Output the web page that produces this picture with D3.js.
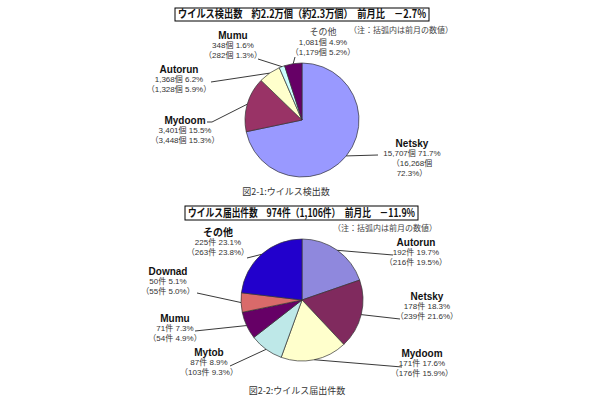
<!DOCTYPE html>
<html>
<head>
<meta charset="utf-8">
<script src="https://cdn.jsdelivr.net/npm/d3@7"></script>
<style>
  body { margin: 0; background: #fff; }
  svg { display: block; }
</style>
</head>
<body>
<svg></svg>
<script>
// chart 1: virus detections
const detectNames = ["Netsky", "Mydoom", "Autorun", "Mumu", "その他"];
const detectCounts = [15707, 3401, 1368, 348, 1081];
const detectShares = [71.7, 15.5, 6.2, 1.6, 4.9];
const detectPrevCounts = [16268, 3448, 1328, 282, 1179];
const detectPrevShares = [72.3, 15.3, 5.9, 1.3, 5.2];
const detectTitle = "ウイルス検出数　約2.2万個（約2.3万個）　前月比　－2.7%";
const detectCaption = "図2-1:ウイルス検出数";

// chart 2: virus reports
const reportNames = ["Autorun", "Netsky", "Mydoom", "Mytob", "Mumu", "Downad", "その他"];
const reportCounts = [192, 178, 171, 87, 71, 50, 225];
const reportShares = [19.7, 18.3, 17.6, 8.9, 7.3, 5.1, 23.1];
const reportPrevCounts = [216, 239, 176, 103, 54, 55, 263];
const reportPrevShares = [19.5, 21.6, 15.9, 9.3, 4.9, 5.0, 23.8];
const reportTitle = "ウイルス届出件数　974件（1,106件）　前月比　－11.9%";
const reportCaption = "図2-2:ウイルス届出件数";

const noteText = "（注：括弧内は前月の数値）";

// Layout
const width = 610;
const height = 400;
const latin = "'Liberation Sans', Arial, 'Noto Sans CJK JP', sans-serif";
const cjk = "'Noto Sans CJK JP', 'Liberation Sans', sans-serif";

const svg = d3.select("svg")
    .attr("width", width)
    .attr("height", height)
    .attr("viewBox", `0 0 ${width} ${height}`);

svg.append("rect")
    .attr("width", width)
    .attr("height", height)
    .attr("fill", "#fff");

const fmt = d3.format(",");

// label anchors (x = text centre, y = first line centre, lx/ly = leader start)
const charts = [
  {
    names: detectNames, counts: detectCounts, shares: detectShares,
    prevCounts: detectPrevCounts, prevShares: detectPrevShares,
    unit: "個", title: detectTitle, caption: detectCaption,
    cx: 302, cy: 120, r: 57,
    colors: ["#9999FF", "#993366", "#FFFFCC", "#CCFFFF", "#660066"],
    box: [175, 8, 254, 13], titleLen: 248,
    note: [401, 30], cap: [286, 192],
    labels: [
      {x: 412, y: 143, lx: 378, ly: 155, wrap: true},
      {x: 185, y: 120, lx: 207, ly: 122, hook: 212},
      {x: 179, y: 69, lx: 211, ly: 82},
      {x: 233, y: 35, lx: 258, ly: 59},
      {x: 323, y: 32, lx: 295, ly: 57, plain: true}
    ]
  },
  {
    names: reportNames, counts: reportCounts, shares: reportShares,
    prevCounts: reportPrevCounts, prevShares: reportPrevShares,
    unit: "件", title: reportTitle, caption: reportCaption,
    cx: 302, cy: 300, r: 61,
    colors: ["#8F88DD", "#802A5E", "#FFFFCC", "#BEE8E8", "#660066", "#D96A6A", "#2200CC"],
    box: [185, 206, 233, 14], titleLen: 227,
    note: [385, 228], cap: [297, 391],
    labels: [
      {x: 416, y: 242, lx: 393, ly: 255},
      {x: 427, y: 296, lx: 400, ly: 319},
      {x: 422, y: 353, lx: 402, ly: 367},
      {x: 209, y: 352, lx: 230, ly: 366},
      {x: 175, y: 318, lx: 195, ly: 331},
      {x: 168, y: 271, lx: 197, ly: 293},
      {x: 218, y: 232, lx: 247, ly: 258}
    ]
  }
];

charts.forEach(c => {
  const pie = d3.pie().sort(null).value(d => d);
  const arcs = pie(c.counts);
  const arc = d3.arc().innerRadius(0).outerRadius(c.r);

  const g = svg.append("g");

  // title box
  g.append("rect")
      .attr("x", c.box[0]).attr("y", c.box[1])
      .attr("width", c.box[2]).attr("height", c.box[3])
      .attr("fill", "#fff")
      .attr("stroke", "#000")
      .attr("stroke-width", 1);

  g.append("text")
      .attr("x", c.box[0] + c.box[2] / 2)
      .attr("y", c.box[1] + c.box[3] / 2)
      .attr("dy", "0.36em")
      .attr("text-anchor", "middle")
      .attr("font-family", cjk)
      .attr("font-size", 11)
      .attr("font-weight", "bold")
      .attr("textLength", c.titleLen)
      .attr("lengthAdjust", "spacingAndGlyphs")
      .attr("fill", "#111")
      .text(c.title);

  g.append("text")
      .attr("x", c.note[0]).attr("y", c.note[1])
      .attr("dy", "0.36em")
      .attr("text-anchor", "middle")
      .attr("font-family", cjk)
      .attr("font-size", 8)
      .attr("fill", "#444")
      .text(noteText);

  // slices
  const pieG = g.append("g").attr("transform", `translate(${c.cx},${c.cy})`);
  pieG.selectAll("path")
    .data(arcs)
    .enter()
      .append("path")
      .attr("d", arc)
      .attr("fill", (d, i) => c.colors[i])
      .attr("stroke", "#333")
      .attr("stroke-width", 0.7);

  // leader lines, from label to slice edge at mid angle
  arcs.forEach((a, i) => {
    const lab = c.labels[i];
    const mid = (a.startAngle + a.endAngle) / 2;
    const ex = c.cx + c.r * Math.sin(mid);
    const ey = c.cy - c.r * Math.cos(mid);
    const pts = lab.hook ? [[lab.lx, lab.ly], [lab.hook, lab.ly], [ex, ey]] : [[lab.lx, lab.ly], [ex, ey]];
    g.append("path")
        .attr("d", d3.line()(pts))
        .attr("fill", "none")
        .attr("stroke", "#222")
        .attr("stroke-width", 0.9);

    const t = g.append("text")
        .attr("text-anchor", "middle")
        .attr("font-family", latin);

    t.append("tspan")
        .attr("x", lab.x).attr("y", lab.y).attr("dy", "0.36em")
        .attr("font-size", lab.plain ? 9 : 10)
        .attr("font-weight", lab.plain ? "normal" : "bold")
        .attr("fill", lab.plain ? "#444" : "#111")
        .text(c.names[i]);

    t.append("tspan")
        .attr("x", lab.x).attr("y", lab.y + 10).attr("dy", "0.36em")
        .attr("font-size", 8)
        .attr("fill", "#333")
        .text(`${fmt(c.counts[i])}${c.unit} ${c.shares[i].toFixed(1)}%`);

    if (lab.wrap) {
      t.append("tspan")
          .attr("x", lab.x).attr("y", lab.y + 20).attr("dy", "0.36em")
          .attr("font-size", 8)
          .attr("fill", "#333")
          .text(`（${fmt(c.prevCounts[i])}${c.unit}`);
      t.append("tspan")
          .attr("x", lab.x).attr("y", lab.y + 30).attr("dy", "0.36em")
          .attr("font-size", 8)
          .attr("fill", "#333")
          .text(`${c.prevShares[i].toFixed(1)}%）`);
    } else {
      t.append("tspan")
          .attr("x", lab.x).attr("y", lab.y + 20).attr("dy", "0.36em")
          .attr("font-size", 8)
          .attr("fill", "#333")
          .text(`（${fmt(c.prevCounts[i])}${c.unit} ${c.prevShares[i].toFixed(1)}%）`);
    }
  });

  g.append("text")
      .attr("x", c.cap[0]).attr("y", c.cap[1])
      .attr("dy", "0.36em")
      .attr("text-anchor", "middle")
      .attr("font-family", cjk)
      .attr("font-size", 9)
      .attr("fill", "#333")
      .text(c.caption);
});
</script>
</body>
</html>
